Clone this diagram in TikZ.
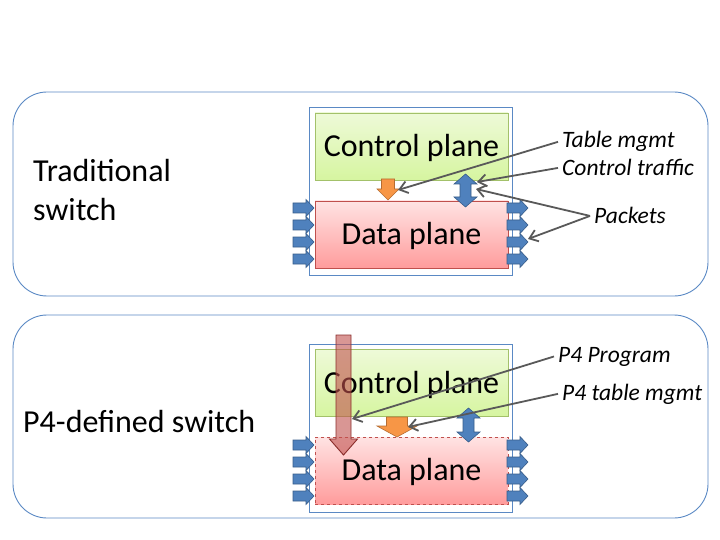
\documentclass[tikz,border=0pt]{standalone}
\usepackage{fontspec}
\setmainfont{Carlito}
\usetikzlibrary{arrows.meta}
\definecolor{frameblue}{HTML}{5A89C4}
\definecolor{cpfillA}{HTML}{EEFAD8}
\definecolor{cpfillB}{HTML}{D6F5A0}
\definecolor{cpborder}{HTML}{A3C16A}
\definecolor{dpfillA}{HTML}{FFE3E3}
\definecolor{dpfillB}{HTML}{FF9C9C}
\definecolor{dpborder}{HTML}{C0504D}
\definecolor{pktfill}{HTML}{4F81BD}
\definecolor{pktborder}{HTML}{385D8A}
\definecolor{orfill}{HTML}{F79646}
\definecolor{orborder}{HTML}{B66D31}
\definecolor{linegray}{HTML}{595959}
\definecolor{bigred}{HTML}{C0504D}
\definecolor{bigredborder}{HTML}{8B2E2C}
\tikzset{
  outerbox/.style={draw=frameblue, line width=0.9pt, rounded corners=34pt},
  holder/.style={draw=frameblue, line width=0.7pt, fill=white},
  planebox/.style={minimum width=193pt, minimum height=67pt, inner sep=0pt,
     text height=22pt, text depth=1.5pt, font=\fontsize{32}{38}\selectfont},
  cpbox/.style={planebox, draw=cpborder, line width=0.8pt, top color=cpfillA, bottom color=cpfillB},
  dpbox/.style={planebox, draw=dpborder, line width=0.8pt, top color=dpfillA, bottom color=dpfillB},
  pkt/.style={draw=pktborder, fill=pktfill, line width=0.6pt},
  orarrow/.style={draw=orborder, fill=orfill, line width=0.6pt},
  redarrow/.style={draw=bigredborder, fill=bigred, fill opacity=0.6, line width=0.9pt},
  lbl/.style={font=\fontsize{23.5}{28}\selectfont\itshape, anchor=base west, inner sep=4pt},
  title/.style={font=\fontsize{32}{38}\selectfont, anchor=base west, inner sep=0pt},
  conn/.style={draw=linegray, line width=1.8pt, -{Straight Barb[length=8pt,width=12pt]}}
}
% right-pointing packet block arrow: #1 left x, #2 centre y
\newcommand\pktright[2]{\draw[pkt] (#1,#2-5) -- ++(13,0) -- ++(0,-3.5) -- ++(8,8.5) -- ++(-8,8.5) -- ++(0,-3.5) -- ++(-13,0) -- cycle;}
% down block arrow: #1 centre x, #2 top y, #3 head start y, #4 tip y, #5 shaft half width, #6 head half width
\newcommand\blkdown[7]{\draw[#7] (#1-#5,#2) -- (#1+#5,#2) -- (#1+#5,#3) -- (#1+#6,#3) -- (#1,#4) -- (#1-#6,#3) -- (#1-#5,#3) -- cycle;}
% double vertical block arrow: #1 centre x, #2 top y, #3 bottom y
\newcommand\blkdouble[3]{\draw[pkt] (#1,#2) -- (#1+11.5,#2+10) -- (#1+5.5,#2+10) -- (#1+5.5,#3-10) -- (#1+11.5,#3-10) -- (#1,#3) -- (#1-11.5,#3-10) -- (#1-5.5,#3-10) -- (#1-5.5,#2+10) -- (#1-11.5,#2+10) -- cycle;}
\begin{document}
\begin{tikzpicture}[x=1pt,y=-1pt]
\useasboundingbox (0,0) rectangle (720,540);
% ---------- traditional switch ----------
\draw[outerbox] (13,92) rectangle (708,296);
\node[title] (t1) at (33,182) {Traditional};
\node[title] (t2) at (33,221) {switch};
\draw[holder] (309,107) rectangle (512,275);
\node[cpbox] (cp1) at (411.5,146.5) {Control plane};
\node[dpbox] (dp1) at (411.5,234.5) {Data plane};
\foreach \yy in {208,225,242,259} {\pktright{293}{\yy}\pktright{507}{\yy}}
\blkdown{388}{179}{189}{200}{6.5}{11}{orarrow}
\blkdouble{465.5}{174}{207}
\node[lbl] (tm) at (558,148) {Table mgmt};
\node[lbl] (ct) at (558,176) {Control traffic};
\node[lbl] (pk) at (590,224) {Packets};
\coordinate (tmtip) at (398,190);
\coordinate (cttip) at (477,182);
\coordinate (pktipA) at (476,189);
\coordinate (pktipB) at (528,239);
\draw[conn] (tm.west) -- (tmtip);
\draw[conn] (ct.west) -- (cttip);
\draw[conn] (pk.west) -- (pktipA);
\draw[conn] (pk.west) -- (pktipB);
% ---------- P4-defined switch ----------
\draw[outerbox] (13,315) rectangle (708,518);
\node[title] (t3) at (23,432) {P4-defined switch};
\draw[holder] (309,344) rectangle (512,512);
\node[cpbox] (cp2) at (411.5,383) {Control plane};
\node[dpbox, dashed, line width=0.6pt] (dp2) at (411.5,470.5) {Data plane};
\foreach \yy in {445,462,479,496} {\pktright{293}{\yy}\pktright{507}{\yy}}
\blkdown{397}{417}{426}{437}{10.5}{20}{orarrow}
\blkdouble{468.5}{408}{442}
\blkdown{343.5}{335}{439}{455}{7.5}{14}{redarrow}
\node[lbl] (pp) at (554,362) {P4 Program};
\node[lbl] (pt) at (558,400) {P4 table mgmt};
\coordinate (pptip) at (352,419);
\coordinate (pttip) at (408,427);
\draw[conn] (pp.west) -- (pptip);
\draw[conn] (pt.west) -- (pttip);
\end{tikzpicture}
\end{document}
